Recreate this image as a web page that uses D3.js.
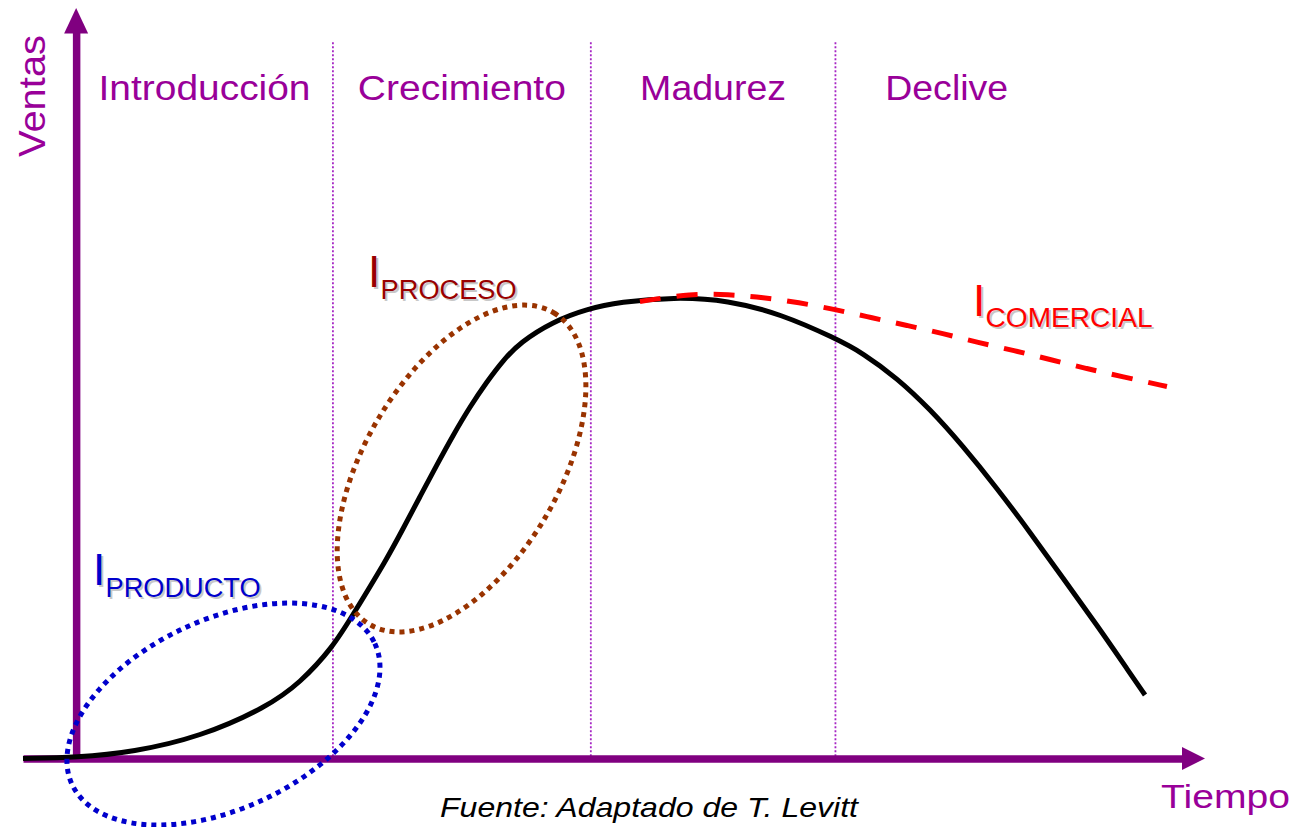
<!DOCTYPE html>
<html>
<head>
<meta charset="utf-8">
<script src="https://cdn.jsdelivr.net/npm/d3@7"></script>
<style>
  html, body { margin: 0; padding: 0; background: #ffffff; }
  svg { display: block; }
</style>
</head>
<body>
<svg id="chart" width="1301" height="827"></svg>
<script>
// ---------- data ----------
// Ventas (product life cycle) curve: time vs sales
const lifeT = [-4.8, 0.08, 5.14, 11.19, 17.25, 20.23, 23.21, 25.01, 28.08, 29.53, 31.06, 32.60, 34.05, 35.58, 37.12, 38.56, 40.10, 43.08, 46.15, 49.13, 54.01, 58.89, 63.68, 68.56, 71.09, 74.16, 77.14, 80.12, 83.19, 86.17, 89.15, 92.23, 95.21, 96.57];
const lifeS = [0, 0.14, 0.93, 3.08, 7.38, 10.82, 15.97, 20.6, 28.6, 32.9, 37.5, 42.1, 46.3, 50.4, 54.0, 57.0, 59.6, 62.6, 64.4, 65.4, 66.1, 65.67, 63.66, 60.22, 58.07, 54.49, 50.05, 44.75, 38.73, 32.43, 25.84, 19.10, 12.22, 9.10];

// Commercial-innovation extension (dashed)
const comercialT = [50.94, 55.64, 58.89, 62.05, 65.30, 68.56, 71.81, 75.06, 78.31, 81.48, 84.73, 87.98, 91.23, 94.48, 98.55];
const comercialS = [65.47, 66.61, 66.47, 66.04, 65.32, 64.32, 63.17, 62.03, 60.88, 59.59, 58.45, 57.16, 55.87, 54.72, 53.29];

// Stages
const stageNames = ["Introducción", "Crecimiento", "Madurez", "Declive"];
const stageEdges = [0, 23.2, 46.5, 68.6, 88.7];

// Axis titles
const axisTitles = ["Ventas", "Tiempo"];

// Innovation labels ("I" + subscript) and their anchors (time, sales)
const innovNames = ["PRODUCTO", "PROCESO", "COMERCIAL"];
const innovT = [1.52, 26.37, 81.02];
const innovS = [24.85, 67.54, 63.39];

// Innovation regions (ellipse centres, time / sales)
const regionNames = ["PRODUCTO", "PROCESO"];
const regionT = [13.31, 34.82];
const regionS = [6.37, 41.54];

const sourceText = "Fuente: Adaptado de T. Levitt";

// ---------- layout / style ----------
const svg = d3.select("#chart");
const x = d3.scaleLinear().domain([-4.8, 100]).range([23, 1183]);
const y = d3.scaleLinear().domain([0, 104]).range([758.5, 32.5]);

const PURPLE = "#800080";
const LABEL = "#990099";
const DIVIDER = "#a626c4";
const FONT = "'Liberation Sans', Arial, sans-serif";

// stage dividers
const dividerG = svg.append("g");
dividerG.selectAll("line")
  .data(stageEdges.slice(1, 4))
  .join("line")
  .attr("x1", d => x(d)).attr("x2", d => x(d))
  .attr("y1", y(102.6)).attr("y2", y(0))
  .attr("stroke", DIVIDER)
  .attr("stroke-width", 1.8)
  .attr("stroke-dasharray", "2,2");

// axes (library axes, no ticks)
const xAxisG = svg.append("g")
  .attr("transform", `translate(0,${y(0)})`)
  .call(d3.axisBottom(x).tickValues([]).tickSizeOuter(0));
xAxisG.select(".domain").attr("stroke", PURPLE).attr("stroke-width", 7.5);

const yAxisG = svg.append("g")
  .attr("transform", `translate(${x(0)},0)`)
  .call(d3.axisLeft(y).tickValues([]).tickSizeOuter(0));
yAxisG.select(".domain").attr("stroke", PURPLE).attr("stroke-width", 7.5);

// arrowheads
const xEnd = x.range()[1], yEnd = y.range()[1];
svg.append("path")
  .attr("d", `M${xEnd - 1},${y(0) - 11.5}L${xEnd + 22},${y(0)}L${xEnd - 1},${y(0) + 11.5}Z`)
  .attr("fill", PURPLE);
svg.append("path")
  .attr("d", `M${x(0) - 12},${yEnd + 1}L${x(0)},${yEnd - 24.5}L${x(0) + 12},${yEnd + 1}Z`)
  .attr("fill", PURPLE);

// life-cycle curve
const lifeData = lifeT.map((t, i) => [t, lifeS[i]]);
const line = d3.line().x(d => x(d[0])).y(d => y(d[1])).curve(d3.curveBasis);
svg.append("path")
  .datum(lifeData)
  .attr("d", line)
  .attr("fill", "none")
  .attr("stroke", "#000")
  .attr("stroke-width", 5);

// commercial dashed extension
const comData = comercialT.map((t, i) => [t, comercialS[i]]);
svg.append("path")
  .datum(comData)
  .attr("d", line)
  .attr("fill", "none")
  .attr("stroke", "#ff0000")
  .attr("stroke-width", 5)
  .attr("stroke-dasharray", "21,16");

// innovation regions
const regionStyle = {
  PRODUCTO: { rx: 167, ry: 94.5, rot: -25, color: "#0000cc" },
  PROCESO: { rx: 181, ry: 97, rot: -59.4, color: "#993300" }
};
svg.append("g").selectAll("ellipse")
  .data(regionNames)
  .join("ellipse")
  .attr("transform", (d, i) => `translate(${x(regionT[i])},${y(regionS[i])}) rotate(${regionStyle[d].rot})`)
  .attr("rx", d => regionStyle[d].rx)
  .attr("ry", d => regionStyle[d].ry)
  .attr("fill", "none")
  .attr("stroke", d => regionStyle[d].color)
  .attr("stroke-width", 5)
  .attr("stroke-dasharray", "5,5");

// stage labels
const stageWidths = [212, 208, 146, 123];
svg.append("g").selectAll("text")
  .data(stageNames)
  .join("text")
  .attr("x", (d, i) => x((stageEdges[i] + stageEdges[i + 1]) / 2))
  .attr("y", 100)
  .attr("text-anchor", "middle")
  .attr("font-family", FONT)
  .attr("font-size", 35)
  .attr("fill", LABEL)
  .attr("textLength", (d, i) => stageWidths[i])
  .attr("lengthAdjust", "spacingAndGlyphs")
  .text(d => d);

// axis titles
svg.append("text")
  .attr("transform", `translate(45,96) rotate(-90)`)
  .attr("text-anchor", "middle")
  .attr("font-family", FONT)
  .attr("font-size", 37)
  .attr("fill", LABEL)
  .attr("textLength", 122)
  .attr("lengthAdjust", "spacingAndGlyphs")
  .text(axisTitles[0]);
svg.append("text")
  .attr("x", 1161)
  .attr("y", 808)
  .attr("font-family", FONT)
  .attr("font-size", 34)
  .attr("fill", LABEL)
  .attr("textLength", 129)
  .attr("lengthAdjust", "spacingAndGlyphs")
  .text(axisTitles[1]);

// innovation labels (with soft grey shadow)
const innovStyle = {
  PRODUCTO: { color: "#0000cc", w: 155 },
  PROCESO: { color: "#990000", w: 136 },
  COMERCIAL: { color: "#ff0000", w: 167 }
};
function drawInnov(g, dx, dy, shadow) {
  innovNames.forEach((name, i) => {
    const ix = x(innovT[i]) + dx, iy = y(innovS[i]) + dy;
    const col = shadow ? "#c8c8c8" : innovStyle[name].color;
    g.append("text")
      .attr("x", ix).attr("y", iy)
      .attr("font-family", FONT)
      .attr("font-size", 44)
      .attr("fill", col)
      .text("I");
    g.append("text")
      .attr("x", ix + 12.6).attr("y", iy + 11.5)
      .attr("font-family", FONT)
      .attr("font-size", 27)
      .attr("fill", col)
      .attr("textLength", innovStyle[name].w)
      .attr("lengthAdjust", "spacingAndGlyphs")
      .text(name);
  });
}
const innovG = svg.append("g");
drawInnov(innovG, 2, 2, true);
drawInnov(innovG, 0, 0, false);

// source
svg.append("text")
  .attr("x", 649)
  .attr("y", 817)
  .attr("text-anchor", "middle")
  .attr("font-family", FONT)
  .attr("font-style", "italic")
  .attr("font-size", 28)
  .attr("fill", "#000")
  .attr("textLength", 418)
  .attr("lengthAdjust", "spacingAndGlyphs")
  .text(sourceText);
</script>
</body>
</html>
